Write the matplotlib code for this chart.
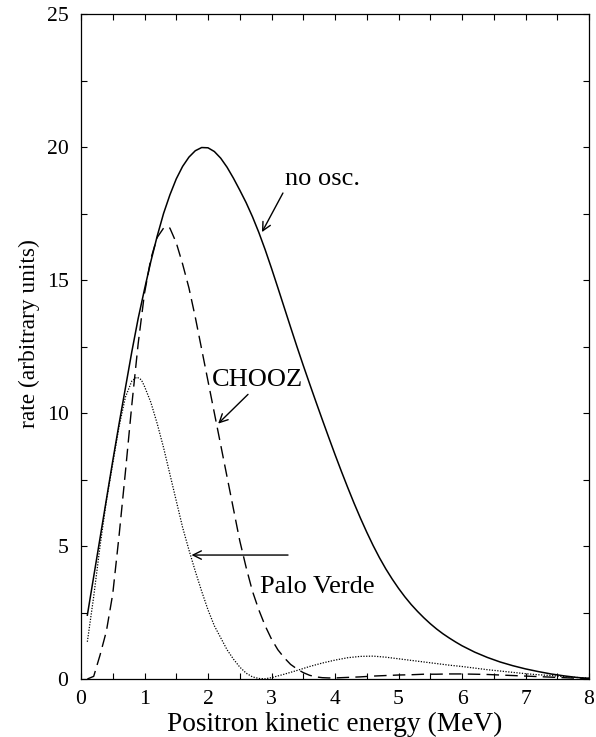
import matplotlib
matplotlib.use("Agg")
import matplotlib.pyplot as plt
from matplotlib.ticker import MultipleLocator

plt.rcParams['font.family'] = ['Liberation Serif', 'DejaVu Serif']

# Positron kinetic energy (MeV) and rates (arbitrary units)
energy_no_osc = [0.1, 0.2, 0.3, 0.4, 0.5, 0.6, 0.7, 0.8, 0.9, 1.0,
                 1.1, 1.2, 1.3, 1.4, 1.5, 1.6, 1.7, 1.8, 1.9, 2.0,
                 2.1, 2.2, 2.3, 2.4, 2.5, 2.6, 2.7, 2.8, 2.9, 3.0,
                 3.1, 3.2, 3.3, 3.4, 3.5, 3.6, 3.7, 3.8, 3.9, 4.0,
                 4.1, 4.2, 4.3, 4.4, 4.5, 4.6, 4.7, 4.8, 4.9, 5.0,
                 5.1, 5.2, 5.3, 5.4, 5.5, 5.6, 5.7, 5.8, 5.9, 6.0,
                 6.2, 6.4, 6.6, 6.8, 7.0, 7.2, 7.4, 7.6, 7.8, 8.0]
rate_no_osc = [2.4, 3.85, 5.3, 6.75, 8.2, 9.6, 10.95, 12.3, 13.55, 14.65,
               15.7, 16.65, 17.5, 18.2, 18.8, 19.27, 19.62, 19.86, 19.98, 19.97,
               19.83, 19.58, 19.24, 18.83, 18.38, 17.91, 17.38, 16.79, 16.14, 15.44,
               14.71, 13.97, 13.23, 12.5, 11.79, 11.1, 10.42, 9.75, 9.09, 8.44,
               7.81, 7.2, 6.61, 6.05, 5.52, 5.02, 4.56, 4.14, 3.76, 3.41,
               3.09, 2.8, 2.54, 2.3, 2.08, 1.88, 1.7, 1.54, 1.39, 1.25,
               1.01, 0.81, 0.64, 0.5, 0.38, 0.28, 0.19, 0.12, 0.06, 0.02]

energy_chooz = [0.1, 0.2, 0.3, 0.4, 0.5, 0.6, 0.7, 0.8, 0.9, 1.0,
                1.1, 1.2, 1.3, 1.37, 1.4, 1.5, 1.6, 1.7, 1.8, 1.9,
                2.0, 2.1, 2.2, 2.3, 2.4, 2.5, 2.6, 2.7, 2.8, 2.9,
                3.0, 3.1, 3.2, 3.3, 3.4, 3.5, 3.6, 3.7, 3.8, 3.9,
                4.0, 4.2, 4.4, 4.6, 4.8, 5.0, 5.2, 5.4, 5.6, 5.8,
                6.0, 6.2, 6.4, 6.6, 6.8, 7.0, 7.2, 7.4, 7.6, 7.8, 8.0]
rate_chooz = [0.0, 0.1, 0.9, 1.8, 3.2, 5.4, 7.8, 10.3, 12.6, 14.5,
              15.8, 16.6, 16.95, 17.0, 16.95, 16.4, 15.6, 14.7, 13.6, 12.4,
              11.2, 10.0, 8.8, 7.6, 6.4, 5.2, 4.2, 3.3, 2.6, 2.0,
              1.5, 1.1, 0.8, 0.55, 0.38, 0.24, 0.14, 0.08, 0.05, 0.04,
              0.04, 0.06, 0.08, 0.11, 0.13, 0.15, 0.16, 0.18, 0.18, 0.19,
              0.19, 0.18, 0.17, 0.15, 0.13, 0.11, 0.09, 0.07, 0.05, 0.03, 0.02]

energy_palo_verde = [0.1, 0.2, 0.3, 0.4, 0.5, 0.6, 0.7, 0.8, 0.88, 0.95,
                     1.0, 1.1, 1.2, 1.3, 1.4, 1.5, 1.6, 1.7, 1.8, 1.9,
                     2.0, 2.1, 2.2, 2.3, 2.4, 2.5, 2.6, 2.7, 2.8, 2.9,
                     3.0, 3.2, 3.4, 3.6, 3.8, 4.0, 4.2, 4.4, 4.6, 4.8,
                     5.0, 5.2, 5.4, 5.6, 5.8, 6.0, 6.2, 6.4, 6.6, 6.8,
                     7.0, 7.2, 7.4, 7.6, 7.8, 8.0]
rate_palo_verde = [1.4, 3.1, 5.0, 6.7, 8.1, 9.5, 10.6, 11.2, 11.35, 11.25,
                   11.0, 10.4, 9.6, 8.7, 7.7, 6.7, 5.7, 4.85, 4.05, 3.3,
                   2.6, 2.0, 1.55, 1.1, 0.75, 0.45, 0.22, 0.08, 0.02, 0.01,
                   0.05, 0.18, 0.32, 0.47, 0.6, 0.71, 0.8, 0.85, 0.86, 0.82,
                   0.76, 0.7, 0.64, 0.58, 0.52, 0.47, 0.41, 0.35, 0.3, 0.25,
                   0.2, 0.16, 0.13, 0.09, 0.06, 0.03]

x_ticks = [0, 1, 2, 3, 4, 5, 6, 7, 8]
y_ticks = [0, 5, 10, 15, 20, 25]

fig = plt.figure(figsize=(5.96, 7.37), dpi=100)
ax = fig.add_axes([81 / 596, 58 / 737, 508 / 596, 665 / 737])

ax.plot(energy_no_osc, rate_no_osc, color='black', lw=1.1,
        solid_joinstyle='round')
ax.plot(energy_chooz, rate_chooz, color='black', lw=1.0, dashes=(9, 4.5))
ax.plot(energy_palo_verde, rate_palo_verde, color='black', lw=0.9,
        linestyle=(0, (1, 1.2)))

ax.set_xlim(0, 8)
ax.set_ylim(0, 25)
ax.set_xticks(x_ticks)
ax.set_yticks(y_ticks)
ax.xaxis.set_minor_locator(MultipleLocator(0.5))
ax.yaxis.set_minor_locator(MultipleLocator(2.5))
ax.tick_params(which='both', direction='in', top=True, right=True,
               length=4.3, width=0.8, labelsize=15.6)
ax.tick_params(axis='x', which='major', pad=7.8)
ax.tick_params(axis='y', which='major', pad=9.0)
for s in ax.spines.values():
    s.set_linewidth(0.9)

ax.set_xlabel('Positron kinetic energy (MeV)', fontsize=19.7)
ax.set_ylabel('rate (arbitrary units)', fontsize=16.8)
ax.xaxis.set_label_coords(0.5, -0.049)
ax.yaxis.set_label_coords(-0.08, 0.519)

arrow = dict(arrowstyle='->', lw=1.0, color='black', shrinkA=0, shrinkB=0,
             mutation_scale=15)
ax.text(3.21, 18.57, 'no osc.', fontsize=19, va='baseline', ha='left')
ax.annotate('', xy=(2.85, 16.8), xytext=(3.18, 18.27), arrowprops=arrow)
ax.text(2.06, 11.0, 'CHOOZ', fontsize=19, va='baseline', ha='left')
ax.annotate('', xy=(2.16, 9.6), xytext=(2.63, 10.7), arrowprops=arrow)
ax.text(2.82, 3.23, 'Palo Verde', fontsize=19, va='baseline', ha='left')
ax.annotate('', xy=(1.74, 4.66), xytext=(3.26, 4.66), arrowprops=arrow)

fig.savefig('out.png', dpi=100)
